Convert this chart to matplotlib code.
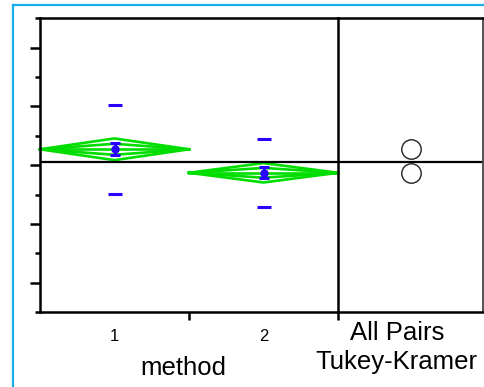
import matplotlib.pyplot as plt
from matplotlib.lines import Line2D

plt.rcParams['font.family'] = ['Liberation Sans', 'DejaVu Sans']

# group summaries (no y scale shown)
groups = ['1', '2']
means = [2.27, 1.87]
ci_half = [0.185, 0.165]
overlap_half = [0.094, 0.083]
std_dev = [0.76, 0.58]
std_err = [0.10, 0.09]
grand_mean = 2.06

green = '#00dd00'
blue = '#2a00ff'

W, H = 484, 387
fig = plt.figure(figsize=(W / 100, H / 100), dpi=100)
ax2 = fig.add_axes([338 / W, 75 / H, 145 / W, 293.7 / H])
ax = fig.add_axes([40 / W, 75 / H, 298 / W, 293.7 / H])
ax.patch.set_visible(False)

# means diamonds, one per group slot
for i, m in enumerate(means):
    x0, xc, x1 = i, i + 0.5, i + 1
    ci, ov = ci_half[i], overlap_half[i]
    ax.plot([x0, xc, x1, xc, x0], [m, m + ci, m, m - ci, m], color=green, lw=1.9, clip_on=False)
    ax.plot([x0, xc, x1], [m, m + ov, m], color=green, lw=1.9, clip_on=False)
    ax.plot([x0, xc, x1], [m, m - ov, m], color=green, lw=1.9, clip_on=False)
    ax.plot([x0, x1], [m, m], color=green, lw=1.9, clip_on=False)
    ax.errorbar(xc, m, yerr=std_err[i], fmt='o', ms=5, color=blue,
                capsize=3.6, capthick=2.2, elinewidth=2.2, zorder=5)
    ax.plot([xc, xc], [m - std_dev[i], m + std_dev[i]], ls='none', marker='_',
            ms=10.5, mew=2.2, color=blue)

ax.axhline(grand_mean, color='black', lw=1.6)
ax2.axhline(grand_mean, color='black', lw=1.6)

# comparison circles
ax2.plot([0.5] * len(means), means, ls='none', marker='o', ms=14,
         mfc='none', mec='#222222', mew=1.0)

ax.set_xlim(0, 2)
ax.set_ylim(-0.5, 4.5)
ax2.set_xlim(0, 1)
ax2.set_ylim(-0.5, 4.5)

ax.set_yticks([0, 1, 2, 3, 4])
ax.set_yticks([-0.5, 0.5, 1.5, 2.5, 3.5, 4.5], minor=True)
ax.set_yticklabels([])
ax.tick_params(axis='y', which='major', length=7.2, width=1.8, direction='out')
ax.tick_params(axis='y', which='minor', length=3.6, width=1.8, direction='out')

ax.set_xticks([1, 2])
ax.set_xticklabels([])
ax.set_xticks([0.5, 1.5], minor=True)
ax.set_xticklabels(groups, minor=True, fontsize=12)
ax.tick_params(axis='x', which='major', length=5.8, width=1.8, direction='out')
ax.tick_params(axis='x', which='minor', length=0, pad=12)

ax2.set_xticks([])
ax2.set_yticks([])

for s in ax.spines.values():
    s.set_linewidth(1.8)
for s in ax2.spines.values():
    s.set_linewidth(1.8)
ax2.spines['left'].set_visible(False)
ax2.spines['right'].set_linewidth(1.3)
ax2.spines['right'].set_color('#444444')

fig.text(183.5 / W, 1 - 375 / H, 'method', ha='center', va='baseline', fontsize=18.5)
fig.text(397 / W, 1 - 340 / H, 'All Pairs', ha='center', va='baseline', fontsize=18.5)
fig.text(396 / W, 1 - 369 / H, 'Tukey-Kramer', ha='center', va='baseline', fontsize=18.5)

# light blue frame around the report
frame = '#1aaee8'
fig.add_artist(Line2D([13.3 / W, 13.3 / W], [0, 1 - 5.3 / H], color=frame, lw=1.6))
fig.add_artist(Line2D([13.3 / W, 1], [1 - 5.3 / H, 1 - 5.3 / H], color=frame, lw=1.6))

fig.savefig('out.png', dpi=100)
